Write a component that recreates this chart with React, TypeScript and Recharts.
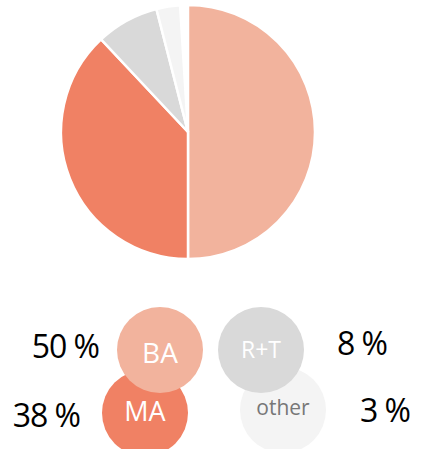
import { Pie, PieChart, Cell } from "recharts"

const categories = ["BA", "MA", "R+T", "other"]
const shares = [50, 38, 8, 3]
const colors = ["#f2b39d", "#f08164", "#d9d9d9", "#f4f4f4"]
const labelColors = ["#ffffff", "#ffffff", "#ffffff", "#777777"]

const data = categories.map((name, i) => ({ name, value: shares[i] }))
const total = shares.reduce((a, b) => a + b, 0)

// legend bubbles: circle centre, text baseline, percent label position
const bubbles = [
  { cx: 160, cy: 350, fs: 28, ty: 363, px: 99, py: 358, anchor: "end" },
  { cx: 145, cy: 413, fs: 27, ty: 421, px: 80, py: 427, anchor: "end" },
  { cx: 261, cy: 350, fs: 23, ty: 358, px: 337, py: 355, anchor: "start" },
  { cx: 283, cy: 410, fs: 21, ty: 415, px: 360, py: 422, anchor: "start" },
]
const drawOrder = [1, 0, 3, 2]
const font = "'Open Sans', sans-serif"

export default function App() {
  return (
    <div style={{ position: "absolute", left: 0, top: 0, width: 423, height: 449, background: "#fff" }}>
      <PieChart width={423} height={449} margin={{ top: 0, right: 0, bottom: 0, left: 0 }}>
        <Pie
          data={data}
          dataKey="value"
          nameKey="name"
          cx={188}
          cy={132}
          outerRadius={127}
          startAngle={90}
          endAngle={90 - (360 * total) / 100}
          stroke="#ffffff"
          strokeWidth={2.5}
          isAnimationActive={false}
        >
          {data.map((d, i) => (
            <Cell key={d.name} fill={colors[i]} />
          ))}
        </Pie>
      </PieChart>
      <svg width={423} height={449} style={{ position: "absolute", left: 0, top: 0 }}>
        {drawOrder.map((i) => {
          const b = bubbles[i]
          return (
            <g key={categories[i]}>
              <circle cx={b.cx} cy={b.cy} r={43} fill={colors[i]} />
              <text x={b.cx} y={b.ty} textAnchor="middle" fontSize={b.fs} fill={labelColors[i]} fontFamily={font}>
                {categories[i]}
              </text>
              <text x={b.px} y={b.py} textAnchor={b.anchor as any} fontSize={32} letterSpacing={-1} fill="#000" fontFamily={font}>
                {shares[i]} %
              </text>
            </g>
          )
        })}
      </svg>
    </div>
  )
}
